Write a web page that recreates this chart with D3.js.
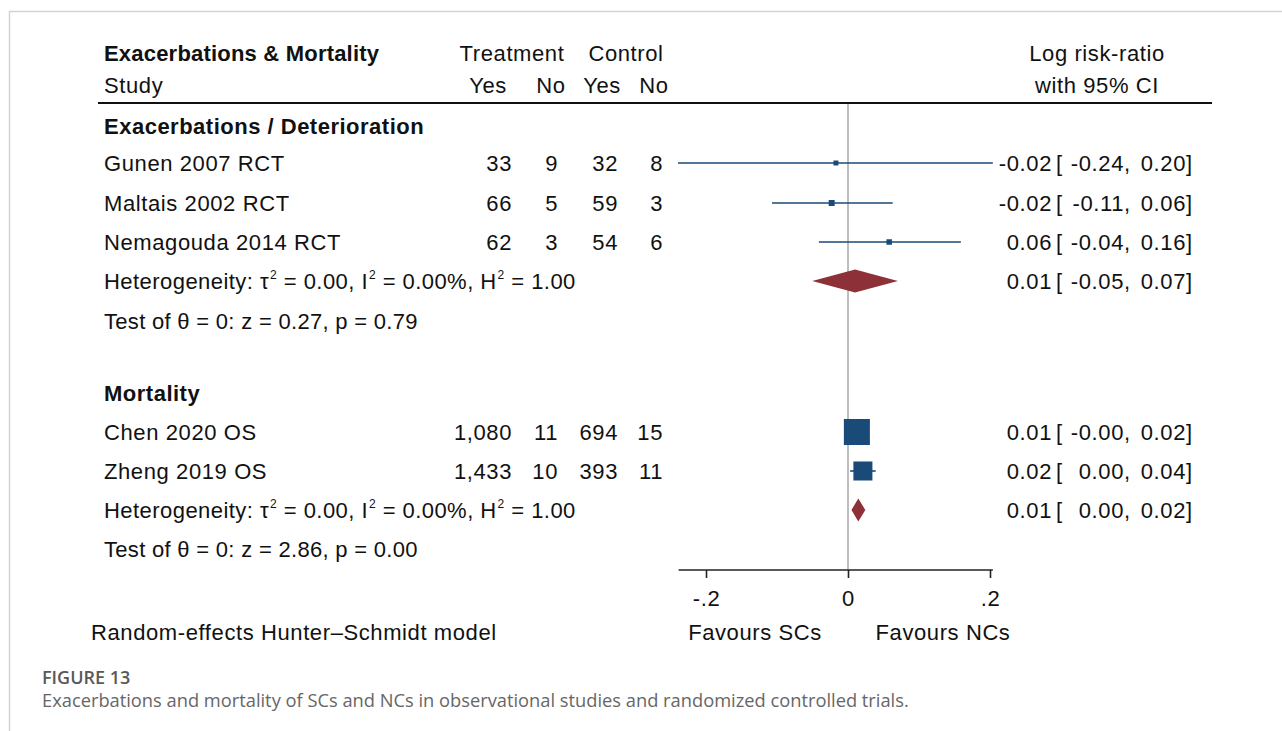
<!DOCTYPE html>
<html>
<head>
<meta charset="utf-8">
<script src="https://cdn.jsdelivr.net/npm/d3@7"></script>
<style>
  html, body { margin: 0; padding: 0; background: #fff; }
  svg { display: block; }
  .t { font-family: "Liberation Sans", Arial, Helvetica, sans-serif; font-size: 22px; letter-spacing: 0.6px; fill: #111; }
  .b { font-weight: bold; letter-spacing: 0.35px; }
  .cap { font-family: "Open Sans", "Noto Sans", sans-serif; }
</style>
</head>
<body>
<svg id="chart" width="1282" height="731"></svg>
<script>
// ---- Study-level data ----
const studies   = ["Gunen 2007 RCT", "Maltais 2002 RCT", "Nemagouda 2014 RCT", "Chen 2020 OS", "Zheng 2019 OS"];
const treatYes  = [33, 66, 62, 1080, 1433];
const treatNo   = [9, 5, 3, 11, 10];
const ctrlYes   = [32, 59, 54, 694, 393];
const ctrlNo    = [8, 3, 6, 15, 11];
const effect    = [-0.017, -0.023, 0.058, 0.0125, 0.021];
const lower     = [-0.2395, -0.107, -0.041, -0.003, 0.003];
const upper     = [0.204, 0.063, 0.159, 0.024, 0.039];
const weight    = [2.2, 3.2, 2.7, 60.7, 32.4];

// ---- Subgroup summaries ----
const groups      = ["Exacerbations / Deterioration", "Mortality"];
const poolEffect  = [0.0099, 0.0145];
const poolLower   = [-0.0504, 0.0049];
const poolUpper   = [0.0703, 0.0244];
const tau2        = ["0.00", "0.00"];
const i2          = ["0.00%", "0.00%"];
const h2          = ["1.00", "1.00"];
const testZ       = ["0.27", "2.86"];
const testP       = ["0.79", "0.00"];

// ---- Axis ----
const xTicks      = [-0.2, 0, 0.2];
const xTickLabels = ["-.2", "0", ".2"];

const svg = d3.select("#chart");
const fmt = v => (v < 0 ? "-" : "") + Math.abs(v).toFixed(2);

// outer frame (top + left rule)
svg.append("line").attr("x1", 9).attr("x2", 1282).attr("y1", 11.5).attr("y2", 11.5)
  .attr("stroke", "#d4d4d4").attr("stroke-width", 1.5);
svg.append("line").attr("x1", 9.5).attr("x2", 9.5).attr("y1", 11).attr("y2", 731)
  .attr("stroke", "#d4d4d4").attr("stroke-width", 1.5);

const x = d3.scaleLinear().domain([-0.2, 0.2]).range([706, 990]);

// vertical centres of the table rows
const yGroupHdr = [126, 393];
const yStudy = [163, 203, 242, 432, 471];
const yHet = [281, 510];
const yTest = [321, 549];
const axisY = 570;
const BL = 7.5; // baseline offset from row centre

const NAVY = "#1a4a77", MAROON = "#8e3037";

function txt(xp, yp, s, anchor, cls) {
  return svg.append("text").attr("class", cls || "t").attr("x", xp).attr("y", yp)
    .attr("text-anchor", anchor || "start").text(s);
}

// header
txt(104, 61, "Exacerbations & Mortality", "start", "t b").style("letter-spacing", "0.2px");
txt(104, 93, "Study");
txt(512, 61, "Treatment", "middle");
txt(626, 61, "Control", "middle");
[["Yes", 488], ["No", 551], ["Yes", 602], ["No", 654]].forEach(([s, cx]) => txt(cx, 93, s, "middle"));
txt(1097, 61, "Log risk-ratio", "middle");
txt(1097, 93, "with 95% CI", "middle");
svg.append("line").attr("x1", 98).attr("x2", 1212).attr("y1", 103).attr("y2", 103)
  .attr("stroke", "#111").attr("stroke-width", 2);

// zero reference line
svg.append("line").attr("x1", x(0)).attr("x2", x(0)).attr("y1", 104).attr("y2", axisY)
  .attr("stroke", "#a8a8a8").attr("stroke-width", 1.5);

// group headers, heterogeneity and test lines
groups.forEach((g, i) => {
  txt(104, yGroupHdr[i] + BL, g, "start", "t b").style("letter-spacing", "0.5px");
  const het = svg.append("text").attr("class", "t").attr("x", 104).attr("y", yHet[i] + BL)
    .style("letter-spacing", "0.45px");
  const parts = [["Heterogeneity: τ", false], ["2", true], [" = " + tau2[i] + ", I", false], ["2", true],
                 [" = " + i2[i] + ", H", false], ["2", true], [" = " + h2[i], false]];
  parts.forEach(([s, sup], k) => {
    const ts = het.append("tspan").text(s);
    if (sup) ts.attr("font-size", 12).attr("dy", -10).attr("dx", 1);
    else if (k > 0) ts.attr("dy", 10);
  });
  txt(104, yTest[i] + BL, `Test of θ = 0: z = ${testZ[i]}, p = ${testP[i]}`).style("letter-spacing", "0.3px");
});

// effect and CI text columns
function ciText(yc, e, lo, hi) {
  const yb = yc + BL;
  txt(1052, yb, fmt(e), "end");
  txt(1056, yb, "[");
  txt(1124, yb, fmt(lo), "end");
  txt(1124, yb, ",");
  txt(1186, yb, fmt(hi), "end");
  txt(1186, yb, "]");
}

const cntFmt = d3.format(",");
const sqSide = w => 3.34 * Math.sqrt(w);

studies.forEach((s, i) => {
  const yc = yStudy[i], yb = yc + BL;
  txt(104, yb, s);
  [[treatYes[i], 512], [treatNo[i], 558], [ctrlYes[i], 618], [ctrlNo[i], 663]].forEach(([v, xr]) =>
    txt(xr, yb, cntFmt(v), "end"));
  // confidence interval
  svg.append("line").attr("x1", x(lower[i])).attr("x2", x(upper[i])).attr("y1", yc).attr("y2", yc)
    .attr("stroke", NAVY).attr("stroke-width", 1.6);
  // weight-scaled square
  const s2 = sqSide(weight[i]);
  svg.append("rect").attr("x", x(effect[i]) - s2 / 2).attr("y", yc - s2 / 2)
    .attr("width", s2).attr("height", s2).attr("fill", NAVY);
  ciText(yc, effect[i], lower[i], upper[i]);
});

// pooled diamonds
groups.forEach((g, i) => {
  const yc = yHet[i], h = 11.5;
  const pts = [[x(poolLower[i]), yc], [x(poolEffect[i]), yc - h], [x(poolUpper[i]), yc], [x(poolEffect[i]), yc + h]];
  svg.append("path").attr("d", d3.line()(pts) + "Z").attr("fill", MAROON);
  ciText(yc, poolEffect[i], poolLower[i], poolUpper[i]);
});

// x axis
const axis = svg.append("g").attr("transform", `translate(0,${axisY})`)
  .call(d3.axisBottom(x).tickValues(xTicks).tickFormat((d, i) => xTickLabels[i]).tickSizeOuter(0).tickSize(8));
axis.select(".domain").attr("d", `M${x(-0.24) + 1},0H${x(0.204)}`).attr("stroke", "#222").attr("stroke-width", 1.6);
axis.selectAll(".tick line").attr("stroke", "#222").attr("stroke-width", 1.6);
axis.selectAll(".tick text").attr("class", "t").attr("fill", "#111").attr("font-size", 22)
  .attr("dy", 0).attr("y", 36);

txt(755, 640, "Favours SCs", "middle");
txt(943, 640, "Favours NCs", "middle");
txt(91, 640, "Random-effects Hunter–Schmidt model");

// caption
svg.append("text").attr("class", "cap").attr("x", 42).attr("y", 684)
  .attr("font-size", 18).attr("font-weight", 600).attr("fill", "#595959").text("FIGURE 13");
svg.append("text").attr("class", "cap").attr("x", 42).attr("y", 707)
  .attr("font-size", 18.3).attr("fill", "#666").text("Exacerbations and mortality of SCs and NCs in observational studies and randomized controlled trials.");
</script>
</body>
</html>
